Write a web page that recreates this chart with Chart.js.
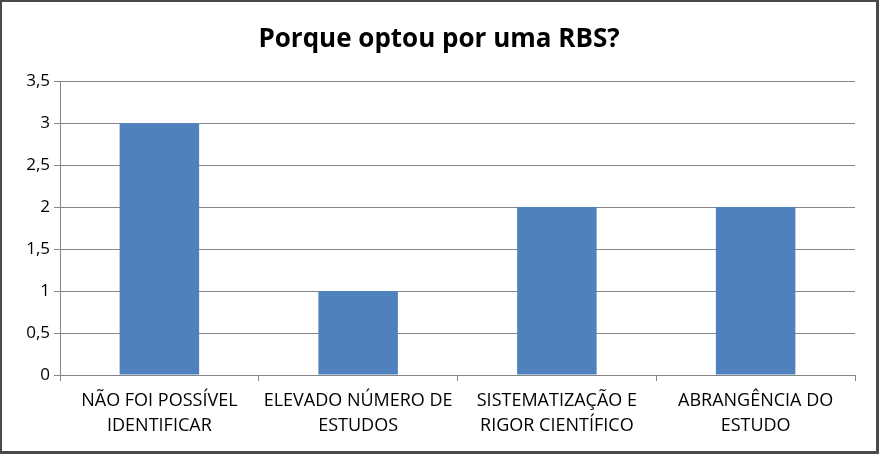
<!DOCTYPE html>
<html>
<head>
<meta charset="utf-8">
<script src="https://cdn.jsdelivr.net/npm/chart.js@4"></script>
<style>
  html, body { margin: 0; padding: 0; background: #fff; }
  .moldura {
    width: 879px; height: 454px; box-sizing: border-box;
    border: 2px solid #4a4a4a; border-right-width: 3px; border-bottom-width: 3px;
    background: #fff;
  }
  .moldura canvas { display: block; }
</style>
</head>
<body>
<div class="moldura">
  <canvas id="grafico" width="874" height="449"></canvas>
</div>
<script>
// Dados
const categorias = [
    ['NÃO FOI POSSÍVEL', 'IDENTIFICAR'],
    ['ELEVADO NÚMERO DE', 'ESTUDOS'],
    ['SISTEMATIZAÇÃO E', 'RIGOR CIENTÍFICO'],
    ['ABRANGÊNCIA DO', 'ESTUDO']
];
const valores = [3, 1, 2, 2];
const titulo = 'Porque optou por uma RBS?';
const eixoMax = 3.5;
const eixoPasso = 0.5;

const fonte = "'Open Sans', 'Noto Sans', sans-serif";

const ctx = document.getElementById('grafico').getContext('2d');
const grafico = new Chart(ctx, {
    type: 'bar',
    data: {
        labels: categorias,
        datasets: [{
            data: valores,
            backgroundColor: '#4f81bd',
            borderWidth: 0,
            categoryPercentage: 1,
            barPercentage: 0.4
        }]
    },
    options: {
        responsive: false,
        animation: false,
        layout: { padding: 0 },
        plugins: {
            legend: { display: false },
            tooltip: { enabled: false },
            title: {
                display: true,
                text: titulo,
                color: '#000',
                font: { family: fonte, size: 26, weight: 'bold' },
                padding: { top: 22, bottom: 26 }
            }
        },
        scales: {
            x: {
                offset: true,
                grid: {
                    display: true,
                    offset: true,
                    drawOnChartArea: false,
                    drawTicks: true,
                    tickLength: 6,
                    color: '#868686'
                },
                border: { color: '#868686' },
                ticks: {
                    color: '#000',
                    font: { family: fonte, size: 18, lineHeight: 1.35 },
                    maxRotation: 0,
                    padding: 8
                },
                afterFit: function(escala) { escala.height = 76; }
            },
            y: {
                min: 0,
                max: eixoMax,
                grid: {
                    color: '#868686',
                    tickLength: 6
                },
                border: { color: '#868686' },
                ticks: {
                    stepSize: eixoPasso,
                    color: '#000',
                    font: { family: fonte, size: 17 },
                    padding: 4,
                    callback: function(valor) {
                        return valor.toString().replace('.', ',');
                    }
                },
                afterFit: function(escala) { escala.width = 58; }
            },
            // eixo vazio a direita, so para deixar a margem sem deslocar o titulo
            margemDireita: {
                position: 'right',
                min: 0,
                max: eixoMax,
                grid: { display: false },
                border: { display: false },
                ticks: { display: false },
                afterFit: function(escala) { escala.width = 21; }
            }
        }
    }
});
</script>
</body>
</html>
